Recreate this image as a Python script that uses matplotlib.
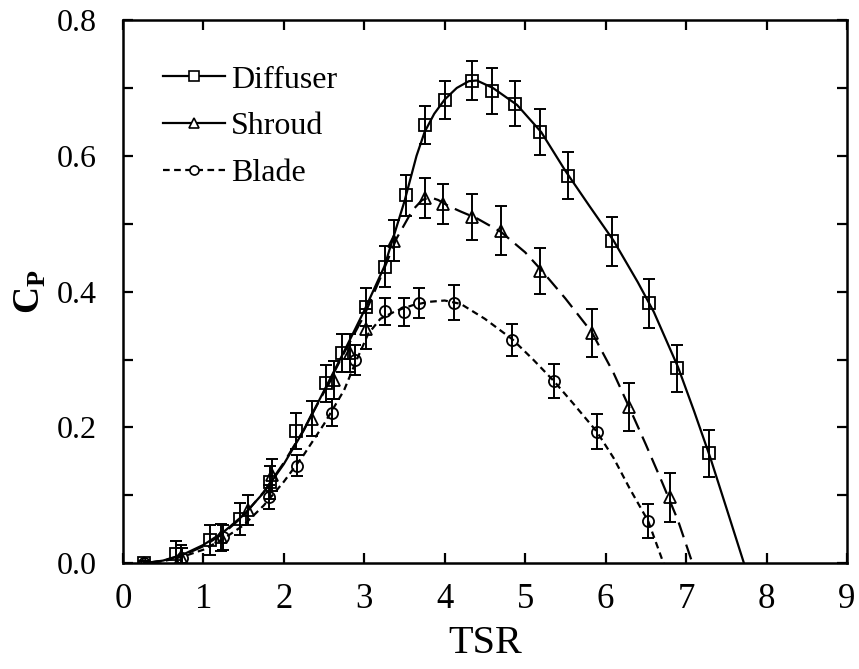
import matplotlib
matplotlib.use("Agg")
import matplotlib.pyplot as plt
from matplotlib.ticker import MultipleLocator

plt.rcParams['font.family'] = ['Liberation Serif', 'DejaVu Serif']
plt.rcParams['mathtext.fontset'] = 'custom'
plt.rcParams['mathtext.rm'] = 'Liberation Serif'
plt.rcParams['mathtext.bf'] = 'Liberation Serif:bold'

# ---- measured points ----
diff_x = [0.26, 0.66, 1.08, 1.45, 1.83, 2.15, 2.52, 2.72, 3.02, 3.26, 3.52, 3.75, 4.01, 4.34, 4.59, 4.88, 5.19, 5.53, 6.08, 6.54, 6.89, 7.28]
diff_y = [0.0, 0.013, 0.034, 0.065, 0.119, 0.195, 0.265, 0.31, 0.377, 0.437, 0.542, 0.645, 0.682, 0.711, 0.695, 0.677, 0.635, 0.571, 0.474, 0.383, 0.287, 0.162]
diff_e = [0.004, 0.02, 0.022, 0.024, 0.025, 0.026, 0.027, 0.028, 0.028, 0.03, 0.03, 0.028, 0.028, 0.028, 0.034, 0.033, 0.034, 0.035, 0.036, 0.036, 0.035, 0.035]

shr_x = [0.26, 0.72, 1.22, 1.55, 1.85, 2.35, 2.62, 2.82, 3.02, 3.37, 3.76, 3.98, 4.34, 4.7, 5.19, 5.83, 6.29, 6.8]
shr_y = [0.0, 0.009, 0.038, 0.078, 0.13, 0.213, 0.27, 0.31, 0.345, 0.475, 0.538, 0.529, 0.51, 0.49, 0.43, 0.339, 0.23, 0.097]
shr_e = [0.004, 0.018, 0.02, 0.022, 0.024, 0.026, 0.028, 0.028, 0.03, 0.03, 0.03, 0.03, 0.034, 0.036, 0.034, 0.035, 0.035, 0.036]

bld_x = [0.26, 0.73, 1.24, 1.82, 2.17, 2.6, 2.88, 3.26, 3.5, 3.68, 4.12, 4.84, 5.36, 5.89, 6.53]
bld_y = [0.0, 0.008, 0.038, 0.098, 0.144, 0.222, 0.3, 0.371, 0.37, 0.383, 0.384, 0.329, 0.268, 0.194, 0.062]
bld_e = [0.003, 0.015, 0.018, 0.018, 0.015, 0.02, 0.022, 0.02, 0.02, 0.022, 0.026, 0.024, 0.025, 0.026, 0.025]

# ---- fitted curves ----
diff_cx = [0.26, 0.5, 0.75, 1.0, 1.25, 1.5, 1.75, 2.0, 2.25, 2.5, 2.75, 3.0, 3.25, 3.5, 3.65, 3.75, 3.87, 4.0, 4.15, 4.3, 4.4, 4.6, 4.9, 5.2, 5.5, 5.8, 6.1, 6.4, 6.6, 6.9, 7.1, 7.3, 7.5, 7.72]
diff_cy = [0.0, 0.004, 0.013, 0.027, 0.046, 0.071, 0.104, 0.146, 0.196, 0.254, 0.312, 0.372, 0.437, 0.533, 0.6, 0.635, 0.662, 0.683, 0.7, 0.71, 0.711, 0.7, 0.675, 0.635, 0.578, 0.526, 0.475, 0.414, 0.37, 0.289, 0.224, 0.156, 0.082, 0.0]

shr_cx = [0.26, 0.5, 0.75, 1.0, 1.25, 1.5, 1.75, 2.0, 2.25, 2.5, 2.75, 3.0, 3.2, 3.4, 3.6, 3.72, 3.82, 3.92, 4.05, 4.2, 4.4, 4.7, 5.0, 5.2, 5.5, 5.83, 6.1, 6.3, 6.5, 6.7, 6.9, 7.08]
shr_cy = [0.0, 0.004, 0.012, 0.025, 0.044, 0.07, 0.105, 0.148, 0.197, 0.252, 0.31, 0.365, 0.42, 0.478, 0.52, 0.535, 0.539, 0.535, 0.526, 0.518, 0.508, 0.488, 0.458, 0.432, 0.39, 0.34, 0.28, 0.228, 0.175, 0.12, 0.063, 0.0]

bld_cx = [0.26, 0.5, 0.75, 1.0, 1.25, 1.5, 1.75, 2.0, 2.25, 2.5, 2.75, 2.9, 3.05, 3.2, 3.4, 3.6, 3.8, 4.0, 4.2, 4.5, 4.84, 5.1, 5.36, 5.6, 5.89, 6.1, 6.3, 6.53, 6.72]
bld_cy = [0.0, 0.003, 0.01, 0.02, 0.036, 0.056, 0.085, 0.12, 0.16, 0.205, 0.255, 0.298, 0.338, 0.36, 0.372, 0.38, 0.385, 0.387, 0.382, 0.36, 0.33, 0.3, 0.268, 0.235, 0.194, 0.155, 0.11, 0.062, 0.0]

x_ticks = [0, 1, 2, 3, 4, 5, 6, 7, 8, 9]
y_ticks = [0.0, 0.2, 0.4, 0.6, 0.8]

fig = plt.figure(figsize=(8.59, 6.69), dpi=100)
ax = fig.add_axes([0.143, 0.158, 0.843, 0.812])

lw = 1.6
ms = 8.8
mew = 1.3
ebkw = dict(fmt='none', ecolor='black', elinewidth=1.4, capsize=4, capthick=1.4, zorder=2)

# error bars
ax.errorbar(diff_x, diff_y, yerr=diff_e, **ebkw)
ax.errorbar(shr_x, shr_y, yerr=shr_e, **ebkw)
ax.errorbar(bld_x, bld_y, yerr=bld_e, **ebkw)

# curves
ax.plot(diff_cx, diff_cy, color='black', lw=lw, ls='-', zorder=3)
ax.plot(shr_cx, shr_cy, color='black', lw=lw, ls=(0, (7, 3.5)), zorder=3)
ax.plot(bld_cx, bld_cy, color='black', lw=lw, ls=(0, (3, 2)), zorder=3)

# markers
ax.plot(diff_x, diff_y, ls='none', marker='s', ms=ms, mfc='none', mec='black', mew=mew, zorder=4)
ax.plot(shr_x, shr_y, ls='none', marker='^', ms=ms, mfc='none', mec='black', mew=mew, zorder=4)
ax.plot(bld_x, bld_y, ls='none', marker='o', ms=ms - 0.8, mfc='none', mec='black', mew=mew, zorder=4)

# legend proxies
h1, = ax.plot([], [], color='black', lw=lw, ls='-', marker='s', ms=7, mfc='white', mec='black', mew=1.2)
h2, = ax.plot([], [], color='black', lw=lw, ls='-', marker='^', ms=7, mfc='white', mec='black', mew=1.2)
h3, = ax.plot([], [], color='black', lw=lw, ls=(0, (3, 2)), marker='o', ms=6.5, mfc='white', mec='black', mew=1.2)
leg = ax.legend([h1, h2, h3], ['Diffuser', 'Shroud', 'Blade'], loc='upper left',
                bbox_to_anchor=(0.055, 0.917), frameon=False, fontsize=23,
                handlelength=1.95, handletextpad=0.2, labelspacing=0.55, borderaxespad=0.0,
                borderpad=0.0)

ax.set_xlim(0, 9)
ax.set_ylim(0, 0.8)
ax.set_xticks(x_ticks)
ax.set_yticks(y_ticks)
ax.set_yticklabels(['%.1f' % v for v in y_ticks])
ax.yaxis.set_minor_locator(MultipleLocator(0.1))
ax.tick_params(axis='both', which='both', direction='in', top=True, right=True, width=1.6)
ax.tick_params(axis='x', which='major', labelsize=25, pad=14)
ax.tick_params(axis='y', which='major', labelsize=23, pad=19)
ax.tick_params(axis='both', which='major', length=7)
ax.tick_params(axis='both', which='minor', length=7)
for s in ax.spines.values():
    s.set_linewidth(1.8)

ax.set_xlabel('TSR', fontsize=29, labelpad=7)
ax.set_ylabel(r'$\mathbf{C}_\mathbf{P}$', fontsize=27, labelpad=6)

fig.savefig('out.png', dpi=100)
